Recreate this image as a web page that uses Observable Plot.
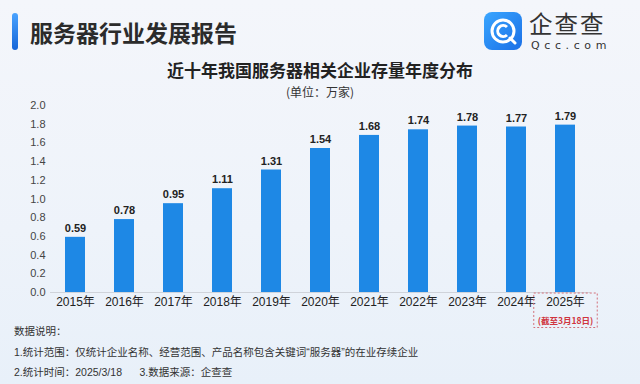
<!DOCTYPE html>
<html>
<head>
<meta charset="utf-8">
<script src="https://cdn.jsdelivr.net/npm/d3@7"></script>
<script src="https://cdn.jsdelivr.net/npm/@observablehq/plot@0.6"></script>
<style>
  html, body { margin: 0; padding: 0; }
  body { width: 640px; height: 384px; overflow: hidden;
    font-family: "Liberation Sans", "Noto Sans CJK SC", sans-serif;
    background: linear-gradient(180deg, #f4f6fb 0%, #eef3fa 60%, #e8f0f9 100%); }
  #wrap { position: relative; width: 640px; height: 384px; }
  .abs { position: absolute; white-space: nowrap; }
  #accent { left: 12px; top: 13px; width: 6px; height: 37px; border-radius: 3px;
    background: linear-gradient(180deg, #4aa3ff, #1565d8); }
  #head { left: 30px; top: 15px; font-size: 23px; font-weight: bold; color: #2b2b2b;
    font-family: "Noto Sans CJK SC", sans-serif; line-height: 34px; }
  #title { left: 0; width: 640px; top: 60px; text-align: center; font-size: 17px; font-weight: bold;
    color: #222; font-family: "Noto Sans CJK SC", sans-serif; line-height: 20px; }
  #sub { left: 0; width: 640px; top: 85px; text-align: center; font-size: 12px; color: #333;
    font-family: "Noto Sans CJK SC", sans-serif; line-height: 14px; }
  #chart { left: 0; top: 95px; }
  .foot { left: 14px; font-size: 10.5px; color: #333; font-family: "Liberation Sans", "Noto Sans CJK SC", sans-serif; line-height: 14px; }
  #logoTxt { left: 529px; top: 11px; font-size: 23.5px; color: #333; font-family: "Noto Sans CJK SC", sans-serif; line-height: 24px; letter-spacing: 2px; }
  #logoSub { left: 531px; top: 40px; font-size: 11px; color: #333; letter-spacing: 4.6px; font-family: "DejaVu Sans", sans-serif; line-height: 12px; }
</style>
</head>
<body>
<div id="wrap">
  <div id="accent" class="abs"></div>
  <div id="head" class="abs">服务器行业发展报告</div>
  <svg class="abs" style="left:484px;top:12px" width="40" height="40" viewBox="0 0 40 40">
    <defs><linearGradient id="lg" x1="0" y1="0" x2="1" y2="1">
      <stop offset="0" stop-color="#3aa6ff"/><stop offset="1" stop-color="#1a6fe6"/></linearGradient></defs>
    <rect x="0" y="0" width="38" height="38" rx="8" fill="url(#lg)"/>
    <circle cx="19" cy="19" r="11" fill="none" stroke="#fff" stroke-width="3"/>
    <path d="M23 15 A5.5 5.5 0 1 0 23 23" fill="none" stroke="#fff" stroke-width="3"/>
    <line x1="26" y1="26" x2="31" y2="31" stroke="#fff" stroke-width="3" stroke-linecap="round"/>
  </svg>
  <div id="logoTxt" class="abs">企查查</div>
  <div id="logoSub" class="abs">Qcc.com</div>
  <div id="title" class="abs">近十年我国服务器相关企业存量年度分布</div>
  <div id="sub" class="abs">(单位：万家)</div>
  <div id="chart" class="abs"></div>
  <div class="abs foot" style="top:324px">数据说明：</div>
  <div class="abs foot" style="top:345px">1.统计范围：仅统计企业名称、经营范围、产品名称包含关键词“服务器”的在业存续企业</div>
  <div class="abs foot" style="top:365px">2.统计时间：2025/3/18&nbsp;&nbsp;&nbsp;&nbsp;&nbsp;&nbsp;3.数据来源：企查查</div>
</div>
<script>
const years = ["2015","2016","2017","2018","2019","2020","2021","2022","2023","2024","2025"];
const values = [0.59, 0.78, 0.95, 1.11, 1.31, 1.54, 1.68, 1.74, 1.78, 1.77, 1.79];
const yTicks = [0, 0.2, 0.4, 0.6, 0.8, 1.0, 1.2, 1.4, 1.6, 1.8, 2.0];
const noteYear = "2025";
const noteText = "(截至3月18日)";

const data = years.map((y, i) => ({year: y, value: values[i]}));

const plot = Plot.plot({
  width: 640,
  height: 240,
  marginLeft: 50,
  marginRight: 50,
  marginTop: 10,
  marginBottom: 43,
  style: {fontFamily: '"Liberation Sans", "Noto Sans CJK SC", sans-serif', background: "transparent", overflow: "visible"},
  x: {domain: years, paddingInner: 0.6, paddingOuter: 0.3},
  y: {domain: [0, 2.0]},
  marks: [
    Plot.barY(data, {x: "year", y: "value", fill: "#1e88e5"}),
    Plot.ruleY([0], {stroke: "#cfd3da", strokeWidth: 1}),
    Plot.text(data, {x: "year", y: "value", text: d => d.value.toFixed(2), dy: -9,
      fontSize: 11, fontWeight: "bold", fill: "#222"}),
    Plot.axisY({ticks: yTicks, tickSize: 0, tickPadding: 5, tickFormat: d => d.toFixed(1),
      fontSize: 11, fill: "#444", label: null}),
    Plot.axisX({tickSize: 0, tickPadding: 5, tickFormat: d => d + "年", fontSize: 12, fill: "#222", label: null}),
    Plot.text([noteYear], {x: d => d, frameAnchor: "bottom", dy: 31, text: () => noteText,
      fontSize: 8.5, fontWeight: "bold", fill: "#d0343e", fontFamily: '"Noto Sans CJK SC", sans-serif', className: "note"})
  ]
});
document.getElementById("chart").appendChild(plot);

// dashed box around the 2025 label and its note
const svg = d3.select(plot);
const labels = svg.selectAll("text").filter(function() { return this.textContent === noteYear + "年"; }).nodes();
const notes = svg.selectAll(".note text").nodes();
if (labels.length && notes.length) {
  const svgRect = plot.getBoundingClientRect();
  const r = [labels[0], notes[0]].map(n => n.getBoundingClientRect());
  const x0 = Math.min(...r.map(a => a.left)) - svgRect.left - 4;
  const x1 = Math.max(...r.map(a => a.right)) - svgRect.left + 4;
  const y0 = Math.min(...r.map(a => a.top)) - svgRect.top - 2;
  const y1 = Math.max(...r.map(a => a.bottom)) - svgRect.top + 2;
  svg.append("rect").attr("x", x0).attr("y", y0).attr("width", x1 - x0).attr("height", y1 - y0)
    .attr("fill", "none").attr("stroke", "#d2707a").attr("stroke-width", 1).attr("stroke-dasharray", "2,2");
}
</script>
</body>
</html>
